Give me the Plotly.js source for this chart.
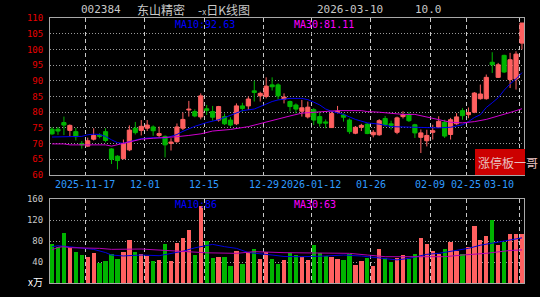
<!DOCTYPE html>
<html><head><meta charset="utf-8">
<script src="https://cdn.plot.ly/plotly-3.0.1.min.js"></script>
<style>html,body{margin:0;padding:0;background:#000;}#chart{width:540px;height:297px;}</style>
</head><body><div id="chart"></div>
<script>
// ---- data ----
const dates = ["2025-11-07","2025-11-10","2025-11-11","2025-11-12","2025-11-13","2025-11-14","2025-11-17","2025-11-18","2025-11-19","2025-11-20",
"2025-11-21","2025-11-24","2025-11-25","2025-11-26","2025-11-27","2025-11-28","2025-12-01","2025-12-02","2025-12-03","2025-12-04",
"2025-12-05","2025-12-08","2025-12-09","2025-12-10","2025-12-11","2025-12-12","2025-12-15","2025-12-16","2025-12-17","2025-12-18",
"2025-12-19","2025-12-22","2025-12-23","2025-12-24","2025-12-25","2025-12-26","2025-12-29","2025-12-30","2025-12-31","2026-01-05",
"2026-01-06","2026-01-07","2026-01-08","2026-01-09","2026-01-12","2026-01-13","2026-01-14","2026-01-15","2026-01-16","2026-01-19",
"2026-01-20","2026-01-21","2026-01-22","2026-01-23","2026-01-26","2026-01-27","2026-01-28","2026-01-29","2026-01-30","2026-02-02",
"2026-02-03","2026-02-04","2026-02-05","2026-02-06","2026-02-09","2026-02-10","2026-02-11","2026-02-12","2026-02-13","2026-02-24",
"2026-02-25","2026-02-26","2026-02-27","2026-03-02","2026-03-03","2026-03-04","2026-03-05","2026-03-06","2026-03-09","2026-03-10"];
const openP  = [74.6,74.6,76.7,74.2,73.8,70.0,69.2,71.4,72.7,73.8, 68.3,66.0,65.2,68.0,74.9,74.2,74.9,75.3,72.6,72.3,
                70.1,70.6,74.9,80.7,80.2,78.5,81.1,80.2,77.5,78.6, 77.5,76.3,82.0,82.0,86.8,85.2,85.0,88.7,88.7,84.2,
                83.4,82.3,80.3,78.5,80.8,78.6,76.9,75.1,79.9,79.1, 77.5,73.3,75.2,76.2,72.8,72.8,78.0,76.3,73.6,78.6,
                79.2,76.0,72.0,70.9,73.6,75.2,76.8,72.9,76.3,80.5, 79.2,80.0,84.3,84.3,95.9,91.1,98.1,90.4,90.6,102.0];
const highP  = [75.2,75.3,78.6,76.1,75.0,70.8,71.9,74.9,73.3,74.9, 68.5,66.3,71.3,75.8,76.9,77.5,77.5,75.8,75.4,72.6,
                71.7,76.4,79.9,83.6,80.9,86.0,82.3,82.0,82.0,79.6, 78.4,82.8,83.0,85.0,90.0,86.5,91.1,91.1,89.2,86.0,
                83.7,82.8,83.9,83.4,81.3,80.2,77.7,80.2,82.0,79.6, 78.0,75.6,76.3,76.5,74.3,77.8,78.8,77.3,78.6,80.3,
                80.1,76.3,74.5,74.4,76.0,78.7,77.6,78.2,79.7,81.3, 81.5,86.4,88.8,92.0,99.1,95.7,98.3,98.9,99.4,108.4];
const lowP   = [72.8,72.8,72.7,72.3,71.0,68.4,69.0,71.0,71.7,70.4, 63.5,61.8,65.0,67.6,72.9,72.6,74.0,72.5,72.0,65.6,
                67.8,70.3,74.3,78.6,78.4,77.7,79.1,77.3,77.0,75.9, 75.4,75.9,80.2,80.7,83.4,83.4,84.4,86.9,84.1,82.8,
                80.2,79.6,78.6,78.0,75.9,75.4,74.9,75.0,79.6,77.0, 73.1,73.0,74.0,73.0,72.0,72.5,75.4,74.5,73.0,78.0,
                76.9,71.8,67.0,69.1,71.3,75.0,71.8,71.3,76.0,77.6, 78.1,79.7,84.0,84.0,92.5,90.9,92.5,87.7,87.2,100.0];
const closeP = [73.1,74.0,75.9,75.8,72.2,69.6,70.9,72.6,72.3,71.0, 65.0,64.6,70.0,74.3,73.5,75.5,75.9,74.1,73.2,69.6,
                70.5,75.3,77.7,81.0,78.8,85.2,80.6,78.4,81.8,76.3, 75.9,82.0,81.2,84.2,86.3,86.0,88.3,88.1,85.2,84.8,
                81.8,81.0,81.4,81.6,77.5,76.5,76.5,79.6,80.3,78.4, 73.8,75.2,75.8,73.2,73.6,77.3,76.0,75.8,78.2,79.2,
                77.3,73.4,73.4,72.6,74.1,77.1,72.4,77.6,78.5,78.9, 79.9,86.1,85.8,91.1,95.1,95.1,92.8,96.7,98.5,108.4];
const volume = [73.6,69.0,94.6,67.3,58.4,53.3,50.1,56.5,37.4,41.9, 54.6,45.7,58.4,81.9,58.4,54.6,52.0,41.9,43.8,73.6,
                41.9,75.5,85.1,100.9,53.3,146.6,80.6,47.0,50.1,50.1, 33.0,60.9,36.2,58.4,64.7,45.7,59.7,45.7,36.2,43.8,
                56.5,53.3,48.9,43.8,72.4,56.5,51.4,50.1,45.7,43.8, 55.2,34.3,41.9,47.0,33.0,64.7,47.0,40.6,48.2,53.3,
                45.1,54.6,85.1,73.6,60.9,54.6,64.7,78.7,60.9,54.6, 69.2,109.2,81.9,90.1,120.0,72.4,78.7,92.7,92.7,92.7];
// moving-average lines (day index, value)
const ma10Idx = [0,2,4,5,6,7,8,9,10,11,12,13,14,15,17,19,20,21,22,24,26,28,30,32,34,35,36,37,38,40,42,43,44,45,46,47,49,51,53,55,57,59,61,63,65,67,69,70,71,72,73,74,75,76,77,78,79];
const ma10Val = [72.1,72.1,72.1,72.3,72.8,73.0,72.9,72.3,71.2,70.3,70.1,70.6,71.2,71.6,71.9,71.8,72.3,72.9,73.9,75.5,76.7,77.6,79.0,80.5,81.0,81.8,82.6,83.4,83.9,84.4,84.4,84.0,83.2,82.3,81.0,80.3,79.3,77.7,76.6,76.2,75.4,75.3,75.1,75.0,75.0,75.2,76.0,77.0,78.3,79.2,81.5,83.0,84.6,87.0,89.0,90.6,92.6];
const ma30Idx = [0,2,3,9,10,11,12,13,14,15,17,19,21,23,25,27,30,33,35,37,39,40,42,45,48,52,53,55,57,59,61,63,65,67,69,71,73,75,77,79];
const ma30Val = [69.9,69.9,69.6,69.6,69.2,69.6,70.0,70.5,70.9,71.4,71.7,71.9,72.2,72.6,73.1,74.0,74.5,75.4,76.4,77.5,78.3,78.8,79.7,80.0,80.5,80.5,80.2,80.0,79.6,79.3,79.3,78.5,77.5,76.8,76.6,77.0,77.7,78.7,79.9,81.1];
const vma10Idx = [0,1,3,5,7,9,10,12,15,18,20,22,24,26,27,29,31,33,34,37,39,42,46,49,52,56,58,60,62,63,65,68,70,72,75,77,79];
const vma10Val = [69,71,69,67,64,58,53.3,51.5,53.3,52,56,60.5,67,72,73.6,69.2,66,58,56.5,53.3,50.5,50.1,51.4,53.3,51.4,47,44,47,52,54.6,56.5,62.8,66,72,78.7,81.9,86];
const vma30Idx = [0,1,2,3,8,10,15,18,22,26,31,34,39,48,50,53,56,62,66,69,73,77,79];
const vma30Val = [63,68,69.2,67.3,66,64.1,64.7,62.8,60.9,57.5,56.5,59.7,57.8,57,56.5,53.3,50.1,50.1,50.1,53.3,56.5,62,63];
const tickIdx  = [6,16,26,36,44,54,64,70,79];
const tickText = ["2025-11-17","12-01","12-15","12-29","2026-01-12","01-26","02-09","02-25","03-10"];
const priceTicks = [60,65,70,75,80,85,90,95,100,105,110];
const volTicks = [40,80,120,160];
const labels = {code:"002384", name:"东山精密", kind:"-<span style='font-size:8px'>x</span>日K线图", date:"2026-03-10", val:"10.0",
  ma10:"MA10:92.63", ma30:"MA30:81.11", vma10:"MA10:86", vma30:"MA30:63", unit:"x万", tag:"涨停板一哥"};

// ---- drawing ----
const idx = dates.map((d,i)=>i);
const UP='#ff6060', DN='#00b400';
const mono='DejaVu Sans Mono, monospace', cjk='Noto Sans CJK SC, sans-serif';
const px2x = p => (p-50)/474, py2y = p => (283-p)/265;
const gridX = tickIdx.map(i=>i-0.4);
const isUp = idx.map(i=>closeP[i]>=openP[i]);

function wick(up){
  const xs=[], ys=[];
  idx.forEach(i=>{ if(isUp[i]===up){ xs.push(i,i,null); ys.push(lowP[i],highP[i],null); } });
  return {type:'scatter', mode:'lines', x:xs, y:ys, line:{color:up?UP:DN,width:1}, xaxis:'x', yaxis:'y', hoverinfo:'skip'};
}
const bodyBase = idx.map(i=>Math.min(openP[i],closeP[i]));
const bodyLen  = idx.map(i=>Math.abs(closeP[i]-openP[i]));
const col = idx.map(i=>isUp[i]?UP:DN);

const traces = [
  wick(true), wick(false),
  {type:'bar', x:idx, y:bodyLen, base:bodyBase, width:0.7, marker:{color:col, line:{color:col,width:1}},
   xaxis:'x', yaxis:'y', hoverinfo:'skip'},
  {type:'scatter', mode:'lines', x:ma10Idx, y:ma10Val, line:{color:'#0000ee',width:1}, xaxis:'x', yaxis:'y', hoverinfo:'skip'},
  {type:'scatter', mode:'lines', x:ma30Idx, y:ma30Val, line:{color:'#d000d0',width:1}, xaxis:'x', yaxis:'y', hoverinfo:'skip'},
  {type:'bar', x:idx, y:volume, width:0.72, marker:{color:col, line:{width:0}},
   xaxis:'x2', yaxis:'y2', hoverinfo:'skip'},
  {type:'scatter', mode:'lines', x:vma10Idx, y:vma10Val, line:{color:'#0000dd',width:1}, xaxis:'x2', yaxis:'y2', hoverinfo:'skip'},
  {type:'scatter', mode:'lines', x:vma30Idx, y:vma30Val, line:{color:'#b000b0',width:1}, xaxis:'x2', yaxis:'y2', hoverinfo:'skip'}
];

const xcommon = {range:[-0.34,79.34], tickvals:gridX, showticklabels:false, ticks:'', showgrid:true,
  gridcolor:'#c8c8c8', griddash:'4px,3px', gridwidth:1, showline:true, mirror:true, linecolor:'#a8a8a8', linewidth:1,
  zeroline:false, fixedrange:true};

const ann = [];
function A(text,x,y,opt){ ann.push(Object.assign({text:text,x:x,y:y,xref:'paper',yref:'paper',showarrow:false,
  xanchor:'left',yanchor:'middle',font:{family:mono,size:11,color:'#c8c8c8'}},opt||{})); }
A(labels.code, px2x(79), py2y(9));
A(labels.name, px2x(135), py2y(9), {font:{family:cjk,size:12,color:'#c8c8c8'}});
A(labels.kind, px2x(196), py2y(9), {font:{family:cjk,size:12,color:'#c8c8c8'}});
A(labels.date, px2x(315), py2y(9));
A(labels.val, px2x(413), py2y(9));
A(labels.ma10, px2x(173), py2y(24), {font:{family:mono,size:10,color:'#0000ff'}});
A(labels.ma30, px2x(292), py2y(24), {font:{family:mono,size:10,color:'#ff00ff'}});
A(labels.vma10, px2x(173), py2y(204), {font:{family:mono,size:10,color:'#0000ff'}});
A(labels.vma30, px2x(292), py2y(204), {font:{family:mono,size:10,color:'#ff00ff'}});
A(labels.unit, px2x(45), py2y(281), {xanchor:'right', font:{family:cjk,size:10,color:'#ffffff'}});
A(labels.tag, px2x(476), py2y(162), {font:{family:cjk,size:12,color:'#e8c0c0'}});
tickIdx.forEach((t,k)=>{
  const last = k===tickIdx.length-1;
  ann.push({text:tickText[k], x:gridX[k], y:py2y(184), xref:'x', yref:'paper', showarrow:false,
    xanchor: last?'right':'center', xshift: last?-4:0, yanchor:'middle',
    font:{family:mono,size:10,color:'#2f9bff'}});
});

const layout = {
  width:540, height:297, paper_bgcolor:'#000', plot_bgcolor:'#000', showlegend:false, bargap:0,
  margin:{l:50,r:16,t:18,b:14},
  xaxis: Object.assign({}, xcommon, {anchor:'y', domain:[0,1]}),
  xaxis2: Object.assign({}, xcommon, {anchor:'y2', domain:[0,1]}),
  yaxis: {domain:[py2y(175),1], range:[60,110], tickvals:priceTicks, ticks:'', ticklabelstandoff:4,
    tickfont:{family:mono,size:9,color:'#e60000'}, showgrid:true, gridcolor:'#9a9a9a', griddash:'1px,2px',
    showline:true, mirror:true, linecolor:'#a8a8a8', zeroline:false, fixedrange:true},
  yaxis2: {domain:[0,py2y(199)], range:[0,160], tickvals:volTicks, ticks:'', ticklabelstandoff:4,
    tickfont:{family:mono,size:9,color:'#c8c8c8'}, showgrid:true, gridcolor:'#9a9a9a', griddash:'1px,2px',
    showline:true, mirror:true, linecolor:'#a8a8a8', zeroline:false, fixedrange:true},
  shapes:[{type:'rect', xref:'paper', yref:'paper', x0:px2x(475), x1:px2x(525), y0:py2y(175), y1:py2y(149),
    fillcolor:'#cc0000', line:{width:0}, layer:'above'}],
  annotations: ann
};
Plotly.newPlot('chart', traces, layout, {staticPlot:true, displayModeBar:false});
</script></body></html>
